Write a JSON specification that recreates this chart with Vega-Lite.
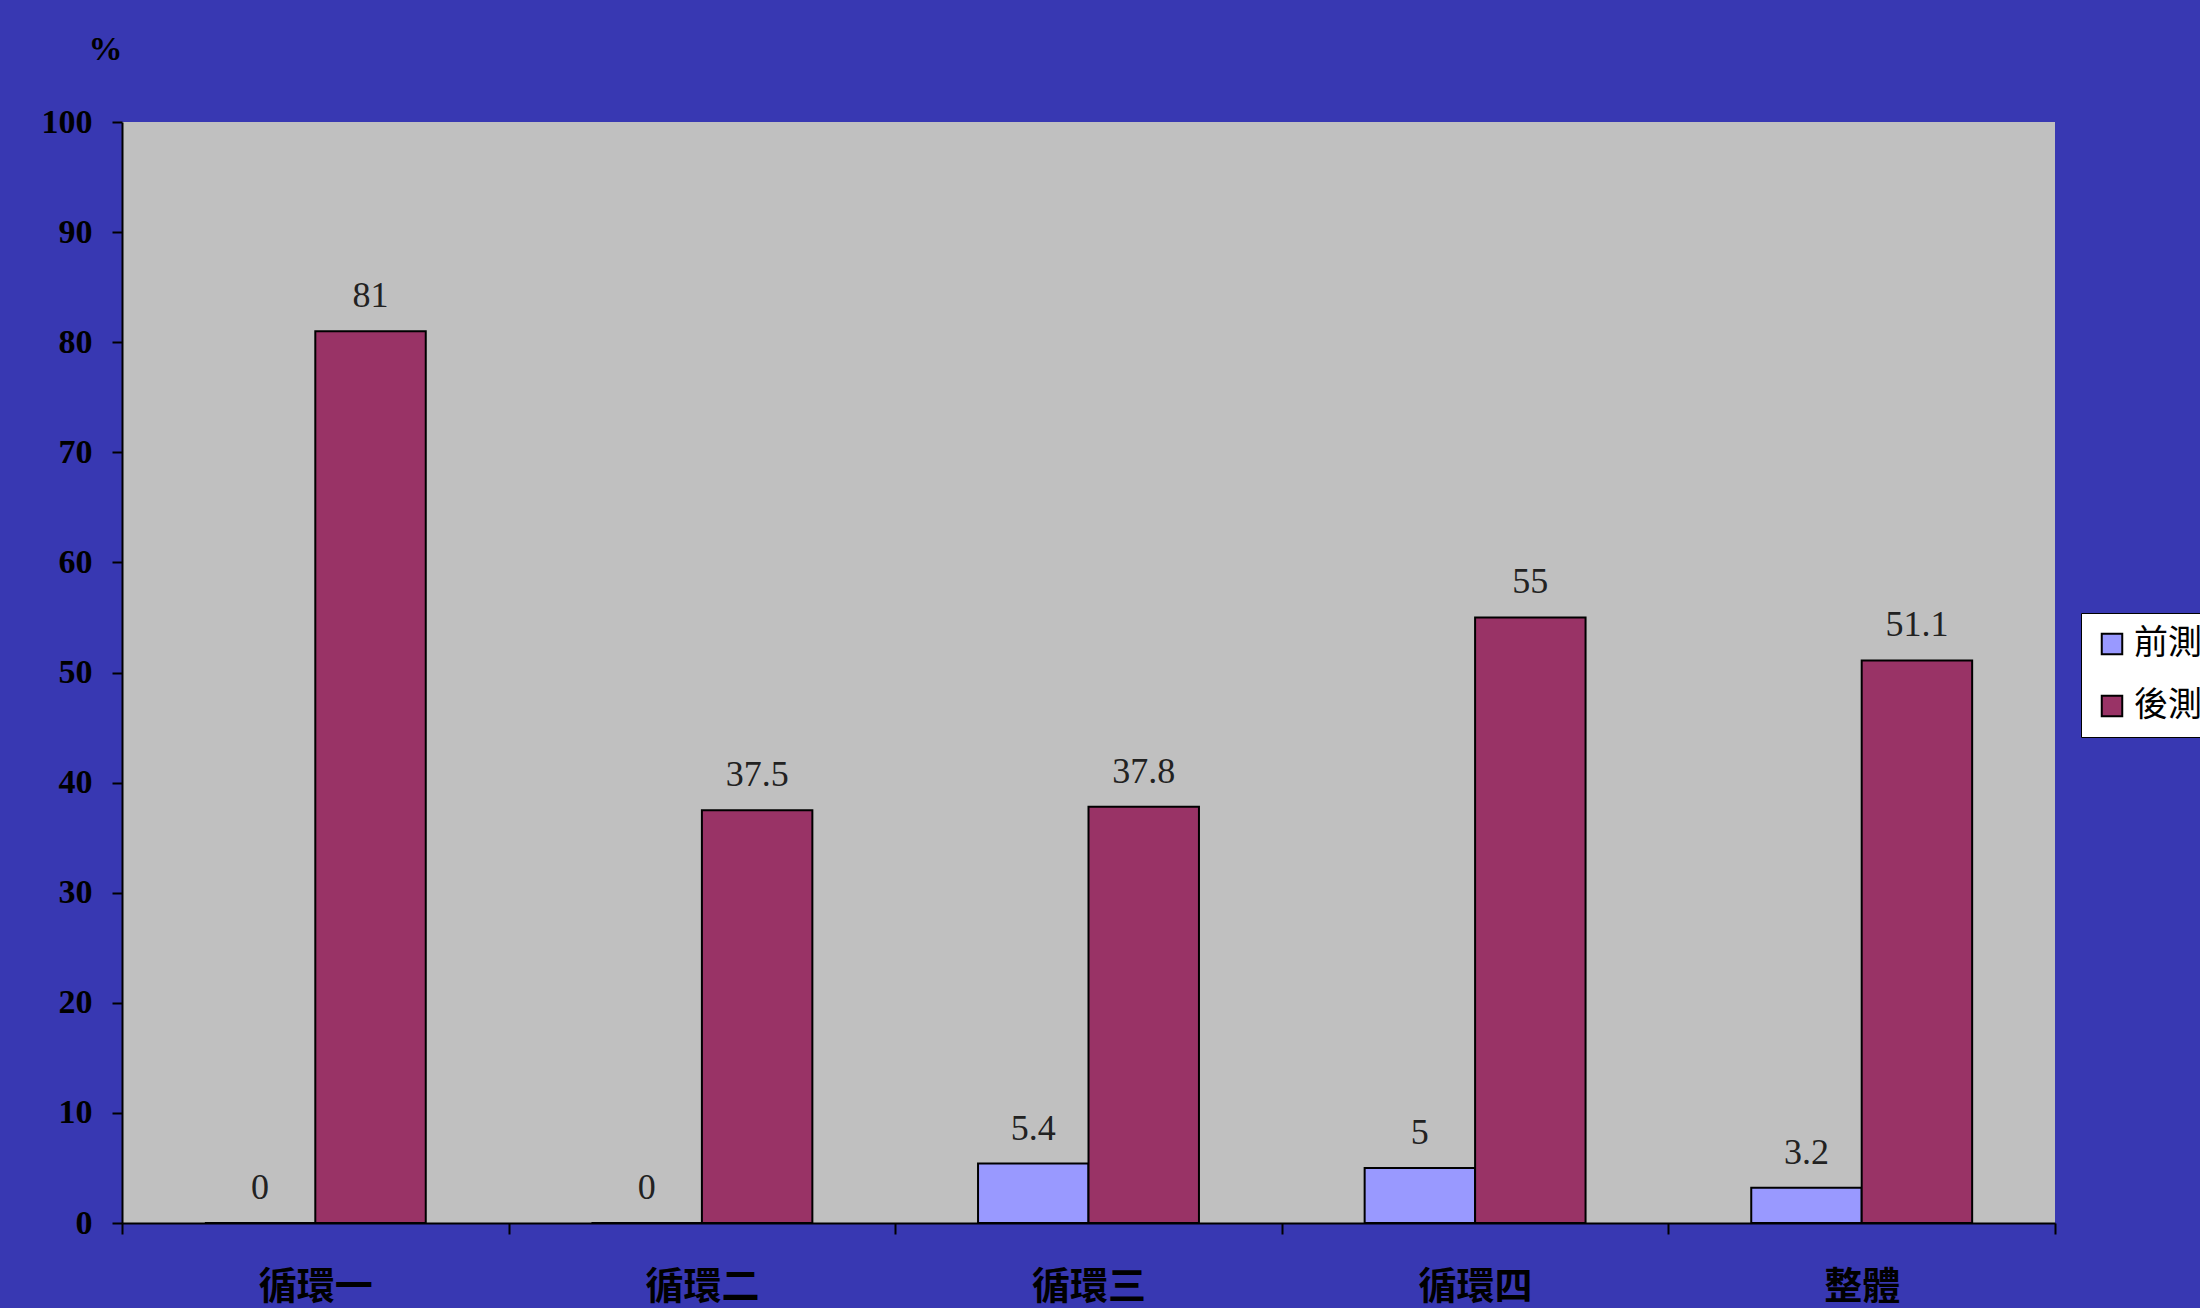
{
  "$schema": "https://vega.github.io/schema/vega-lite/v6.json",
  "autosize": {"type": "none"},
  "width": 1933,
  "height": 1101,
  "padding": {"left": 122, "top": 122, "right": 145, "bottom": 85},
  "background": "#3838b2",
  "config": {
    "view": {"fill": "#c0c0c0", "stroke": null}
  },
  "data": {
    "values": [
      {"cat": "循環一", "test": "前測", "value": 0},
      {"cat": "循環一", "test": "後測", "value": 81},
      {"cat": "循環二", "test": "前測", "value": 0},
      {"cat": "循環二", "test": "後測", "value": 37.5},
      {"cat": "循環三", "test": "前測", "value": 5.4},
      {"cat": "循環三", "test": "後測", "value": 37.8},
      {"cat": "循環四", "test": "前測", "value": 5},
      {"cat": "循環四", "test": "後測", "value": 55},
      {"cat": "整體", "test": "前測", "value": 3.2},
      {"cat": "整體", "test": "後測", "value": 51.1}
    ]
  },
  "encoding": {
    "x": {
      "field": "cat",
      "type": "nominal",
      "sort": ["循環一", "循環二", "循環三", "循環四", "整體"],
      "scale": {"paddingInner": 0, "paddingOuter": 0},
      "axis": {
        "title": null,
        "labelAngle": 0,
        "labelFont": "Noto Sans CJK TC",
        "labelFontWeight": "bold",
        "labelFontSize": 38,
        "labelColor": "#000000",
        "labelPadding": 34,
        "domainColor": "#000000",
        "domainWidth": 2,
        "tickColor": "#000000",
        "tickWidth": 2,
        "tickSize": 11,
        "tickBand": "extent"
      }
    },
    "xOffset": {
      "field": "test",
      "type": "nominal",
      "sort": ["前測", "後測"],
      "scale": {"paddingInner": 0, "paddingOuter": 0.75}
    },
    "y": {
      "field": "value",
      "type": "quantitative",
      "scale": {"domain": [0, 100], "nice": false},
      "axis": {
        "values": [0, 10, 20, 30, 40, 50, 60, 70, 80, 90, 100],
        "grid": false,
        "title": "%",
        "titleAngle": 0,
        "titleFont": "Liberation Serif",
        "titleFontWeight": "bold",
        "titleFontSize": 34,
        "titleColor": "#000000",
        "titleAlign": "center",
        "titleBaseline": "middle",
        "titleX": -17,
        "titleY": -73,
        "labelFont": "Liberation Serif",
        "labelFontWeight": "bold",
        "labelFontSize": 34,
        "labelColor": "#000000",
        "labelPadding": 20,
        "domainColor": "#000000",
        "domainWidth": 2,
        "tickColor": "#000000",
        "tickWidth": 2,
        "tickSize": 10
      }
    }
  },
  "layer": [
    {
      "mark": {"type": "bar", "stroke": "#000000", "strokeWidth": 2},
      "encoding": {
        "color": {
          "field": "test",
          "type": "nominal",
          "scale": {"domain": ["前測", "後測"], "range": ["#9999ff", "#993366"]},
          "legend": {
            "title": null,
            "orient": "none",
            "legendX": 1959,
            "legendY": 491,
            "direction": "vertical",
            "symbolType": "square",
            "symbolSize": 420,
            "symbolStrokeColor": "#000000",
            "symbolStrokeWidth": 2,
            "symbolOpacity": 1,
            "fillColor": "#ffffff",
            "strokeColor": "#000000",
            "padding": 14,
            "rowPadding": 28,
            "labelFont": "Noto Sans CJK TC",
            "labelFontSize": 34,
            "labelColor": "#000000",
            "labelOffset": 5
          }
        }
      }
    },
    {
      "mark": {
        "type": "text",
        "baseline": "alphabetic",
        "dy": -24,
        "font": "Liberation Serif",
        "fontSize": 36,
        "color": "#222222"
      },
      "encoding": {
        "text": {"field": "value", "type": "quantitative"}
      }
    }
  ]
}
